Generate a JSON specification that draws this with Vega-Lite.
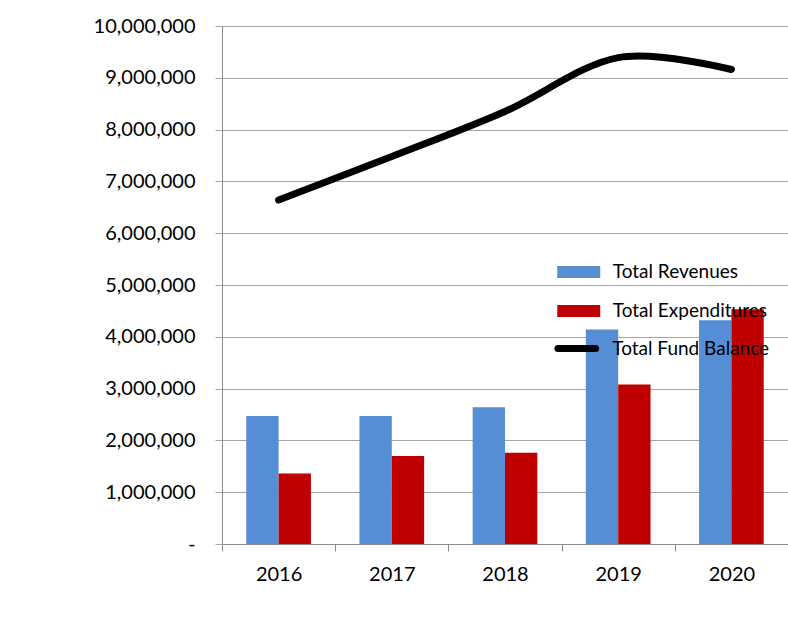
{
  "$schema": "https://vega.github.io/schema/vega-lite/v6.json",
  "width": 566,
  "height": 518,
  "autosize": {"type": "none"},
  "padding": {"left": 222, "top": 26, "right": 0, "bottom": 73},
  "background": "white",
  "config": {
    "font": "Lato",
    "view": {"stroke": null},
    "axis": {"labelFont": "Lato", "labelFontSize": 20, "labelColor": "black", "title": null}
  },
  "datasets": {
    "bars": [
      {"year": "2016", "series": "Total Revenues", "value": 2470000},
      {"year": "2016", "series": "Total Expenditures", "value": 1360000},
      {"year": "2017", "series": "Total Revenues", "value": 2470000},
      {"year": "2017", "series": "Total Expenditures", "value": 1700000},
      {"year": "2018", "series": "Total Revenues", "value": 2640000},
      {"year": "2018", "series": "Total Expenditures", "value": 1760000},
      {"year": "2019", "series": "Total Revenues", "value": 4140000},
      {"year": "2019", "series": "Total Expenditures", "value": 3080000},
      {"year": "2020", "series": "Total Revenues", "value": 4320000},
      {"year": "2020", "series": "Total Expenditures", "value": 4530000}
    ],
    "balance": [
      {"year": "2016", "series": "Total Fund Balance", "value": 6640000},
      {"year": "2017", "series": "Total Fund Balance", "value": 7480000},
      {"year": "2018", "series": "Total Fund Balance", "value": 8350000},
      {"year": "2019", "series": "Total Fund Balance", "value": 9390000},
      {"year": "2020", "series": "Total Fund Balance", "value": 9160000}
    ]
  },
  "layer": [
    {
      "data": {"name": "bars"},
      "mark": {"type": "bar"},
      "encoding": {
        "x": {
          "field": "year", "type": "nominal",
          "scale": {"paddingInner": 0, "paddingOuter": 0},
          "axis": {
            "tickBand": "extent", "tickSize": 7, "labelPadding": 13, "labelAngle": 0,
            "grid": false, "domainColor": "#8c8c8c", "tickColor": "#8c8c8c"
          }
        },
        "xOffset": {
          "field": "series", "type": "nominal",
          "sort": ["Total Revenues", "Total Expenditures"],
          "scale": {"paddingInner": 0, "paddingOuter": 0.75}
        },
        "y": {
          "field": "value", "type": "quantitative",
          "scale": {"domain": [0, 10000000], "nice": false},
          "axis": {
            "values": [0, 1000000, 2000000, 3000000, 4000000, 5000000, 6000000, 7000000, 8000000, 9000000, 10000000],
            "labelExpr": "datum.value === 0 ? '-' : format(datum.value, ',')",
            "tickSize": 7, "labelPadding": 20, "grid": true,
            "gridColor": "#a6a6a6", "tickColor": "#a6a6a6", "domainColor": "#8c8c8c"
          }
        },
        "fill": {
          "field": "series", "type": "nominal",
          "sort": ["Total Revenues", "Total Expenditures"],
          "scale": {"domain": ["Total Revenues", "Total Expenditures"], "range": ["#558ED5", "#C00000"]},
          "legend": {
            "title": null, "orient": "none", "legendX": 345.75, "legendY": 235, "padding": 0,
            "labelFont": "Lato", "labelFontSize": 19, "labelColor": "black", "labelLimit": 300,
            "symbolType": "M-2,-0.56H2V0.56H-2Z", "symbolSize": 462, "symbolStrokeWidth": 0,
            "labelOffset": 23, "rowPadding": 18
          }
        }
      }
    },
    {
      "data": {"name": "balance"},
      "mark": {"type": "line", "interpolate": "cardinal", "strokeWidth": 7, "strokeCap": "round"},
      "encoding": {
        "x": {"field": "year", "type": "nominal"},
        "y": {"field": "value", "type": "quantitative"},
        "stroke": {
          "field": "series", "type": "nominal",
          "scale": {"domain": ["Total Fund Balance"], "range": ["black"]},
          "legend": {
            "title": null, "orient": "none", "legendX": 340.25, "legendY": 308, "padding": 0,
            "labelFont": "Lato", "labelFontSize": 19, "labelColor": "black", "labelLimit": 300,
            "symbolType": "M-1.75,0H1.75", "symbolSize": 462, "symbolStrokeWidth": 7,
            "symbolFillColor": "transparent", "labelOffset": 21,
            "encode": {"symbols": {"update": {"strokeCap": {"value": "round"}}}}
          }
        }
      }
    }
  ]
}
